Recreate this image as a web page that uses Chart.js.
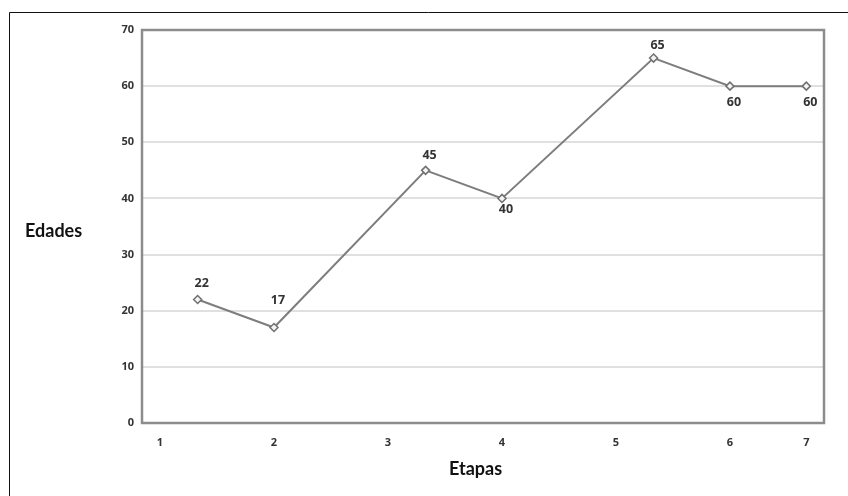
<!DOCTYPE html>
<html>
<head>
<meta charset="utf-8">
<script src="https://cdn.jsdelivr.net/npm/chart.js@4/dist/chart.umd.min.js"></script>
<style>
  html, body { margin: 0; padding: 0; background: #fff; }
  #wrap { width: 848px; height: 496px; position: relative; }
</style>
</head>
<body>
<div id="wrap"><canvas id="myChart" width="848" height="496"></canvas></div>
<script>
// Data
const etapas = [1.33, 2, 3.33, 4, 5.33, 6, 6.67];
const edades = [22, 17, 45, 40, 65, 60, 60];
const xTickPos = [1, 2, 3, 4, 5, 6, 6.67];
const xTickLabels = ["1", "2", "3", "4", "5", "6", "7"];
const yTicks = [0, 10, 20, 30, 40, 50, 60, 70];

// label offsets (px, relative to point)
const labelDy = [-16, -27, -15, 11, -13, 16, 16];

const tickFont = { family: "Open Sans", size: 11, weight: "bold" };

// frame, plot border and value labels
const decor = {
  id: "decor",
  beforeDraw(chart) {
    const c = chart.ctx;
    c.save();
    c.strokeStyle = "#111";
    c.lineWidth = 1;
    c.beginPath();
    c.moveTo(9.5, 496);
    c.lineTo(9.5, 12.5);
    c.lineTo(848, 12.5);
    c.stroke();
    c.restore();
  },
  beforeDatasetsDraw(chart) {
    const a = chart.chartArea;
    const c = chart.ctx;
    c.save();
    c.strokeStyle = "#8c8c8c";
    c.lineWidth = 2.5;
    c.strokeRect(a.left, a.top, a.right - a.left, a.bottom - a.top);
    c.restore();
  },
  afterDatasetsDraw(chart) {
    const c = chart.ctx;
    const pts = chart.getDatasetMeta(0).data;
    c.save();
    c.fillStyle = "#333";
    c.font = "bold 12.5px 'Open Sans'";
    c.textAlign = "center";
    c.textBaseline = "middle";
    pts.forEach((p, i) => {
      c.fillText(String(edades[i]), p.x + 4, p.y + labelDy[i]);
    });
    c.fillStyle = "#111";
    c.font = "bold 18px Lato";
    c.textAlign = "left";
    c.fillText("Edades", 25, 231);
    c.fillText("Etapas", 449, 469);
    c.restore();
  },
};

const ctx = document.getElementById("myChart");

new Chart(ctx, {
  type: "line",
  data: {
    datasets: [
      {
        data: etapas.map((x, i) => ({ x: x, y: edades[i] })),
        borderColor: "#7d7d7d",
        borderWidth: 2,
        pointStyle: "rectRot",
        pointRadius: 4,
        pointBorderWidth: 1.5,
        pointBackgroundColor: "#f4f4f4",
        pointBorderColor: "#707070",
        tension: 0,
      },
    ],
  },
  options: {
    responsive: false,
    animation: false,
    devicePixelRatio: 1,
    layout: { padding: { top: 30, right: 24, left: 0, bottom: 0 } },
    plugins: {
      legend: { display: false },
      tooltip: { enabled: false },
    },
    scales: {
      x: {
        type: "linear",
        min: 0.842,
        max: 6.825,
        afterBuildTicks: (s) => {
          s.ticks = xTickPos.map((v) => ({ value: v }));
        },
        afterFit: (s) => {
          s.height = 73;
        },
        ticks: {
          autoSkip: false,
          maxRotation: 0,
          padding: 13,
          color: "#333",
          font: tickFont,
          callback: (v, i) => xTickLabels[i],
        },
        grid: { display: false, drawTicks: false },
        border: { display: false },
      },
      y: {
        min: 0,
        max: 70,
        afterBuildTicks: (s) => {
          s.ticks = yTicks.map((v) => ({ value: v }));
        },
        afterFit: (s) => {
          s.width = 142;
        },
        ticks: {
          padding: 8,
          color: "#333",
          font: tickFont,
        },
        grid: {
          drawTicks: false,
          lineWidth: 2,
          color: (c) =>
            c.tick && (c.tick.value === 0 || c.tick.value === 70)
              ? "rgba(0,0,0,0)"
              : "#e0e0e0",
        },
        border: { display: false },
      },
    },
  },
  plugins: [decor],
});
</script>
</body>
</html>
